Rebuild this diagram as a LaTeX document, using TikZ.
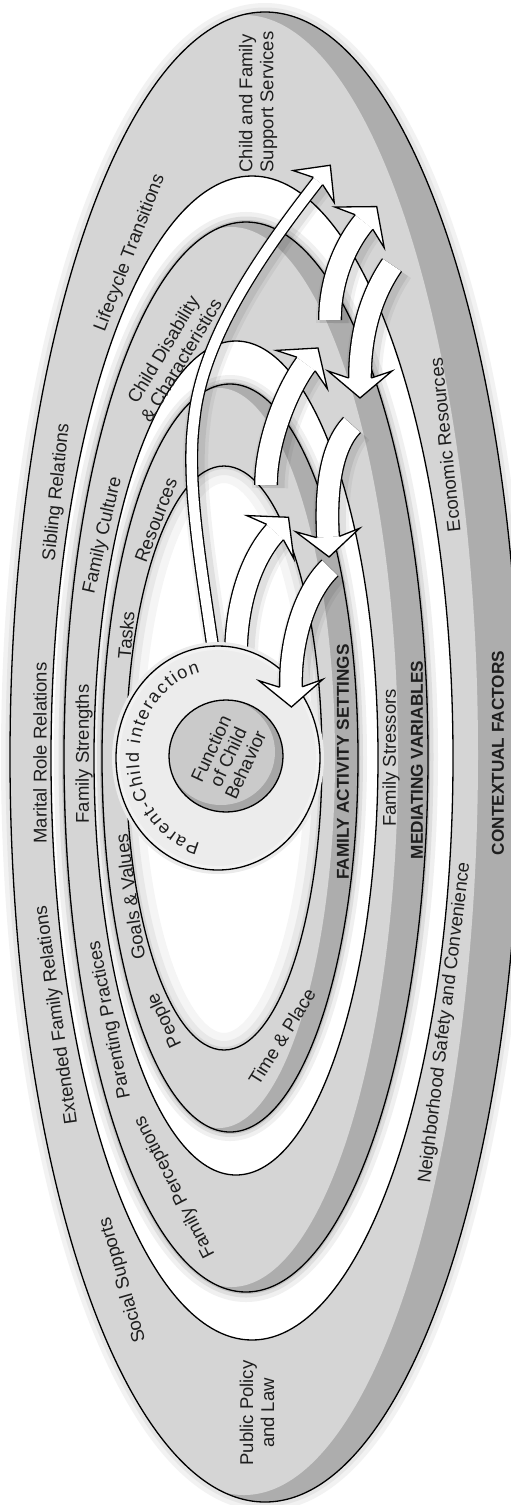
\documentclass[tikz,border=0pt]{standalone}
\usepackage{fontspec}
\setmainfont{Liberation Sans}
\usetikzlibrary{calc,decorations.text}
\definecolor{ltg}{HTML}{D5D5D5}
\definecolor{dkg}{HTML}{ADADAD}
\definecolor{pcf}{HTML}{ECECEC}
\definecolor{fnl}{HTML}{CACACA}
\definecolor{fnd}{HTML}{A6A6A6}
\definecolor{txt}{HTML}{1E1E1E}
\def\arW{24}\def\arI{21.4}\def\arN{11.4}\def\arH{32}\def\arT{20}\def\arB{7}
% #1 prefix, #2 path, #3 penultimate control name, #4 end name
\newcommand\genArrow[4]{%
  \begin{scope}[transform canvas={shift={(4pt,-3pt)}}]
    \draw[line width=\arW pt+12pt, black, opacity=0.05] #2;
    \draw[line width=\arW pt+5pt, black, opacity=0.07] #2;
  \end{scope}
  \draw[line width=\arW pt, black] #2;
  \draw[line width=\arI pt, white] #2;
  \coordinate (#1t) at ($(#4)!-\arT pt!(#3)$);
  \coordinate (#1q) at ($(#4)!\arB pt!(#3)$);
  \coordinate (#1l) at ($(#1q)!\arH pt!90:(#3)$);
  \coordinate (#1r) at ($(#1q)!\arH pt!-90:(#3)$);
  \coordinate (#1m) at ($(#4)!\arN pt!90:(#3)$);
  \coordinate (#1n) at ($(#4)!\arN pt!-90:(#3)$);
  \fill[white] (#1t) -- (#1l) -- (#1m) -- (#1n) -- (#1r) -- cycle;
  \draw[line width=1.3pt, line join=miter] (#1m) -- (#1l) -- (#1t) -- (#1r) -- (#1n);
}
\begin{document}
\begin{tikzpicture}[x=1pt,y=1pt,
  ring/.style={draw=black,line width=1.3pt},
  lab/.style={text=txt,inner sep=0pt,font=\fontsize{18.5}{21}\selectfont},
  blab/.style={text=txt,inner sep=0pt,font=\bfseries\fontsize{17.2}{20}\selectfont},
  r1/.style={x radius=255,y radius=745},
  q1/.style={x radius=234,y radius=740},
  r2/.style={x radius=201,y radius=582},
  r3/.style={x radius=182,y radius=535},
  q3/.style={x radius=166.5,y radius=530},
  r4/.style={x radius=142,y radius=417},
  r5/.style={x radius=128,y radius=374},
  q5/.style={x radius=116,y radius=370},
  r6/.style={x radius=98,y radius=292}]
\useasboundingbox (0,0) rectangle (511,-1505);
\clip (0,0) rectangle (511,-1505);
\fill[white] (0,0) rectangle (511,-1505);

\coordinate (c1) at (265,-757);
\coordinate (k1) at (244,-755);
\coordinate (c2) at (252,-758);
\coordinate (c3) at (246,-757);
\coordinate (k3) at (231.5,-757);
\coordinate (c4) at (236,-758);
\coordinate (c5) at (230,-758);
\coordinate (k5) at (219,-758);
\coordinate (c6) at (224,-758);

% outer disc
\draw[line width=18pt, black!5] (c1) ellipse [r1];
\draw[line width=9pt, black!10] (c1) ellipse [r1];
\fill[dkg] (c1) ellipse [r1];
\begin{scope}\clip (c1) ellipse [r1]; \fill[ltg] (k1) ellipse [q1];\end{scope}
% groove 1
\fill[white] (c2) ellipse [r2];
\begin{scope}\clip (c2) ellipse [r2];
  \draw[line width=20pt, black!6] (c3) ellipse [r3];
  \draw[line width=11pt, black!13] (c3) ellipse [r3];
  \draw[line width=4pt, black!24] (c3) ellipse [r3];
\end{scope}
% mediating disc
\fill[dkg] (c3) ellipse [r3];
\begin{scope}\clip (c3) ellipse [r3]; \fill[ltg] (k3) ellipse [q3];\end{scope}
% groove 2
\fill[white] (c4) ellipse [r4];
\begin{scope}\clip (c4) ellipse [r4];
  \draw[line width=18pt, black!6] (c5) ellipse [r5];
  \draw[line width=10pt, black!13] (c5) ellipse [r5];
  \draw[line width=4pt, black!24] (c5) ellipse [r5];
\end{scope}
% activity disc
\fill[dkg] (c5) ellipse [r5];
\begin{scope}\clip (c5) ellipse [r5]; \fill[ltg] (k5) ellipse [q5];\end{scope}
% inner hole
\fill[white] (c6) ellipse [r6];
\begin{scope}\clip (c6) ellipse [r6];
  \draw[line width=34pt, black!4] (c6) ellipse [r6];
  \draw[line width=18pt, black!9] (c6) ellipse [r6];
  \draw[line width=6pt, black!16] (c6) ellipse [r6];
\end{scope}
\draw[ring] (c1) ellipse [r1];
\draw[ring] (c2) ellipse [r2];
\draw[ring] (c3) ellipse [r3];
\draw[ring] (c4) ellipse [r4];
\draw[ring] (c5) ellipse [r5];
\draw[ring] (c6) ellipse [r6];

% thin arrow to support services
\coordinate (ta0) at (214,-655);
\coordinate (ta1) at (200,-560);
\coordinate (ta2) at (186,-480);
\coordinate (ta3) at (194,-420);
\coordinate (ta4) at (202,-340);
\coordinate (ta5) at (258,-258);
\coordinate (ta6) at (318,-181);
\def\arW{13}\def\arI{10.4}\def\arN{5.9}\def\arH{26}\def\arT{20}\def\arB{7}
\genArrow{th}{(ta0) .. controls (ta1) and (ta2) .. (ta3) .. controls (ta4) and (ta5) .. (ta6)}{ta5}{ta6}

\def\arW{24}\def\arI{21.4}\def\arN{11.4}\def\arH{32}\def\arT{20}\def\arB{7}
% U1
\coordinate (u1a) at (236,-655);
\coordinate (u1b) at (236,-600);
\coordinate (u1c) at (253,-556);
\coordinate (u1d) at (275,-532);
\genArrow{ua}{(u1a) .. controls (u1b) and (u1c) .. (u1d)}{u1c}{u1d}

% parent-child circle
\coordinate (pc) at (218,-758);
\fill[black!8] (pc) ellipse [x radius=106, y radius=116];
\fill[pcf] (pc) ellipse [x radius=102, y radius=112];
\begin{scope}\clip (pc) ellipse [x radius=102, y radius=112];
  \draw[line width=8pt, black!5] (pc) ellipse [x radius=102, y radius=112];
\end{scope}
\draw[ring] (pc) ellipse [x radius=102, y radius=112];
\coordinate (fc) at (226,-756);
\fill[fnd] (fc) ellipse [x radius=57, y radius=56];
\begin{scope}\clip (fc) ellipse [x radius=57, y radius=56];
  \fill[fnl] ($(fc)+(-5,4)$) ellipse [x radius=54, y radius=53];
\end{scope}
\draw[ring] (fc) ellipse [x radius=57, y radius=56];

% D1
\coordinate (d1a) at (330,-568);
\coordinate (d1b) at (305,-592);
\coordinate (d1c) at (290,-640);
\coordinate (d1d) at (291,-687);
\genArrow{da}{(d1a) .. controls (d1b) and (d1c) .. (d1d)}{d1c}{d1d}
% U2
\coordinate (u2a) at (266,-485);
\coordinate (u2b) at (266,-440);
\coordinate (u2c) at (288,-388);
\coordinate (u2d) at (306,-364);
\genArrow{ub}{(u2a) .. controls (u2b) and (u2c) .. (u2d)}{u2c}{u2d}
% D2
\coordinate (d2a) at (352,-425);
\coordinate (d2b) at (328,-450);
\coordinate (d2c) at (326,-500);
\coordinate (d2d) at (328,-537);
\genArrow{db}{(d2a) .. controls (d2b) and (d2c) .. (d2d)}{d2c}{d2d}
% U3
\coordinate (u3a) at (330,-320);
\coordinate (u3b) at (330,-280);
\coordinate (u3c) at (345,-245);
\coordinate (u3d) at (364,-222);
\genArrow{uc}{(u3a) .. controls (u3b) and (u3c) .. (u3d)}{u3c}{u3d}
% D3
\coordinate (d3a) at (392,-265);
\coordinate (d3b) at (368,-300);
\coordinate (d3c) at (360,-340);
\coordinate (d3d) at (360,-378);
\genArrow{dc}{(d3a) .. controls (d3b) and (d3c) .. (d3d)}{d3c}{d3d}

% texts
\node[lab, rotate=90, align=left] (t1) at (258,-102) {Child and Family\\Support Services};
\node[lab, rotate=69] (t2) at (130,-253) {Lifecycle Transitions};
\node[lab, rotate=84] (t3) at (57,-492) {Sibling Relations};
\node[lab, rotate=90] (t4) at (40,-753) {Marital Role Relations};
\node[lab, rotate=98] (t5) at (57,-1015) {Extended Family Relations};
\node[lab, rotate=106] (t6) at (123,-1280) {Social Supports};
\node[lab, rotate=90, align=center] (t7) at (257,-1413) {Public Policy\\and Law};
\node[lab, rotate=83] (t8) at (445,-1023) {Neighborhood Safety and Convenience};
\node[blab, rotate=90] (t9) at (498,-753) {CONTEXTUAL FACTORS};
\node[lab, rotate=96] (t10) at (445,-445) {Economic Resources};
\node[lab, rotate=90] (t11) at (391,-758) {Family Stressors};
\node[blab, rotate=90] (t12) at (417,-760) {MEDIATING VARIABLES};
\node[blab, rotate=90] (t13) at (343,-762) {FAMILY ACTIVITY SETTINGS};
\node[lab, rotate=117] (t14) at (175,-1187) {Family Perceptions};
\node[lab, rotate=101] (t15) at (110,-1020) {Parenting Practices};
\node[lab, rotate=90] (t16) at (84,-754) {Family Strengths};
\node[lab, rotate=77] (t17) at (103,-535) {Family Culture};
\node[lab, rotate=59, align=center] (t18) at (172,-355) {Child Disability\\\& Characteristics};
\node[lab, rotate=69] (t19) at (156,-520) {Resources};
\node[lab, rotate=85] (t20) at (126,-635) {Tasks};
\node[lab, rotate=98] (t21) at (130,-897) {Goals \& Values};
\node[lab, rotate=115] (t22) at (165,-1020) {People};
\node[lab, rotate=58] (t23) at (282,-1037) {Time \& Place};
\node[lab, rotate=65, align=center, font=\fontsize{18.5}{19}\selectfont] (t24) at (228,-757) {Function\\of Child\\Behavior};
\path[decorate, decoration={text along path, text color=txt,
   text={|\fontsize{18}{18}\selectfont|Parent-Child interaction}, text align=fit to path}]
   (pc) ++(257:79 and 88) arc[start angle=257, end angle=103, x radius=79, y radius=88];
\end{tikzpicture}
\end{document}
